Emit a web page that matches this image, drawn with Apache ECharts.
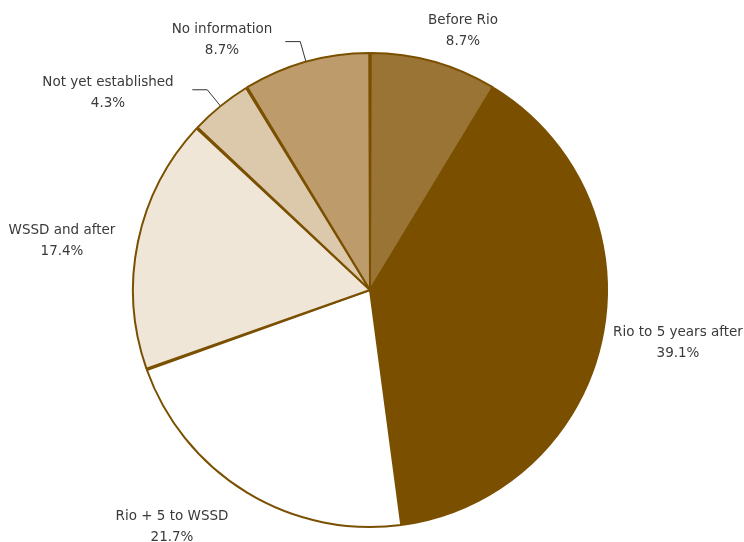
<!DOCTYPE html>
<html>
<head>
<meta charset="utf-8">
<style>
  html, body { margin: 0; padding: 0; background: #ffffff; }
  #chart { width: 744px; height: 542px; }
</style>
<script src="https://cdn.jsdelivr.net/npm/echarts@6/dist/echarts.min.js"></script>
</head>
<body>
<div id="chart"></div>
<script>
// Period in which the strategies were established (share of countries, %)
const categories = [
  'Before Rio',
  'Rio to 5 years after',
  'Rio + 5 to WSSD',
  'WSSD and after',
  'Not yet established',
  'No information'
];
const shares = [8.7, 39.1, 21.7, 17.4, 4.3, 8.7];
const sliceColors = ['#9a7434', '#7b4f00', '#ffffff', '#efe6d8', '#dcc9ac', '#bd9b6b'];

// Layout
const CX = 370, CY = 290, R = 237;
// centre of each two-line label
const labelCentres = [
  [463, 31], [678, 343], [172, 527], [62, 241], [108, 93], [222, 40]
];
const withLeader = [false, false, false, false, true, true];
const LEADER_OUT = 21, LEADER_FLAT = 15;

const total = shares.reduce((a, b) => a + b, 0);
const midAngles = [];
{
  let acc = 0;
  shares.forEach(v => {
    midAngles.push(((acc + v / 2) / total) * Math.PI * 2); // clockwise from 12 o'clock
    acc += v;
  });
}
function polar(r, a) {
  return [CX + r * Math.sin(a), CY - r * Math.cos(a)];
}

const chart = echarts.init(document.getElementById('chart'), null, { renderer: 'canvas' });
chart.setOption({
  backgroundColor: '#ffffff',
  animation: false,
  series: [{
    type: 'pie',
    center: [CX, CY],
    radius: [0, R],
    startAngle: 90,
    clockwise: true,
    padAngle: 0.35,
    avoidLabelOverlap: false,
    itemStyle: { borderColor: '#7a5000', borderWidth: 2 },
    emphasis: { disabled: true },
    label: {
      show: true,
      position: 'outside',
      formatter: '{b}\n{c}%',
      fontFamily: 'DejaVu Sans',
      fontSize: 13.5,
      lineHeight: 21,
      color: '#3a3a3a'
    },
    labelLine: {
      show: false,
      lineStyle: { color: '#333333', width: 1 }
    },
    labelLayout: function (p) {
      const i = p.dataIndex;
      const out = {
        x: labelCentres[i][0],
        y: labelCentres[i][1],
        align: 'center',
        verticalAlign: 'middle'
      };
      if (withLeader[i]) {
        const a = midAngles[i];
        const edge = polar(R, a);
        const elbow = polar(R + LEADER_OUT, a);
        out.labelLinePoints = [edge, elbow, [elbow[0] - LEADER_FLAT, elbow[1]]];
      }
      return out;
    },
    data: categories.map((name, i) => ({
      name: name,
      value: shares[i],
      itemStyle: { color: sliceColors[i] },
      labelLine: { show: withLeader[i] }
    }))
  }]
});
</script>
</body>
</html>
